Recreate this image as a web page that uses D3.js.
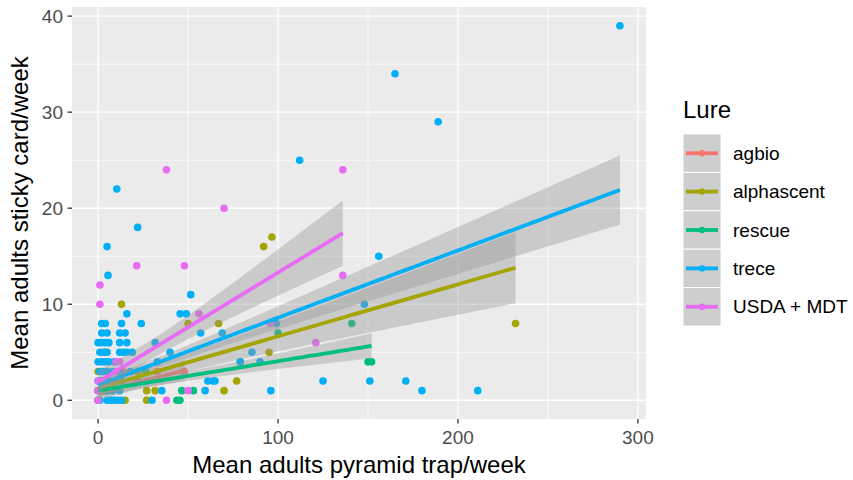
<!DOCTYPE html>
<html>
<head>
<meta charset="utf-8">
<script src="https://cdn.jsdelivr.net/npm/d3@7"></script>
<style>
  body { margin: 0; background: white; }
  svg { font-family: "Liberation Sans", Arial, sans-serif; }
</style>
</head>
<body>
<div id="chart"></div>
<script>
// lures + ggplot default hue colours
const lures = ["agbio", "alphascent", "rescue", "trece", "USDA + MDT"];
const lureColors = ["#F8766D", "#A3A500", "#00BF7D", "#00B0F6", "#E76BF3"];

// points: [pyramid trap, sticky card]
const agbioPoints = [[0,0],[1,1],[3,2],[8,1],[14,3],[22,2],[33,3],[48,3]];
const alphascentPoints = [[0,0],[0,1],[0,3],[4,5],[13,10],[15,0],[22,3],[27,0],[27,1],[31.7,1],
  [50,8],[67,8],[70,1],[77,2],[92,16],[96.6,17],[95,5],[232,8]];
const rescuePoints = [[0,0],[0,1],[2,2],[5,1],[26.5,3],[43.8,0],[45.5,0],[46.5,1],[53,1],
  [79,4],[100,7],[141,8],[150,4],[152,4]];
const trecePoints = [
  [1,0],[5,0],[7,0],[9,0],[11,0],[13,0],[30,0],
  [2,1],[4,1],[6,1],[8,1],[12,1],[35.4,1],[59.5,1],[96,1],[180,1],[211,1],
  [0,2],[2,2],[4,2],[6,2],[10,2],[13,2],[61,2],[64,2],[65,2],[125,2],[151,2],[171,2],
  [1,3],[3,3],[5,3],[8,3],[12,3],[18,3],
  [0,4],[2,4],[4,4],[6,4],[9,4],[33,4],[79,4],[90,4],
  [1,5],[3,5],[5,5],[12,5],[14,5],[16,5],[19,5],[40,5],[85.5,5],
  [0,6],[2,6],[4,6],[6,6],[12,6],[16,6],[31.7,6],
  [2,7],[5,7],[12,7],[15,7],[57,7],[69,7],
  [2,8],[4,8],[13,8],[24,8],[99,8],
  [16,9],[45.6,9],[49,9],
  [148,10],[51.5,11],[5.5,13],[156,15],[5,16],[22,18],[10.4,22],[112,25],[189,29],[165,34],[290,39]
];
const usdaPoints = [[0,0],[38,0],[0,1],[50,1],[0,2],[10,4],[12,4],[10,3],[1,10],[1,12],[21.5,14],[48,14],
  [56,9],[95.7,8],[121,6],[136,13],[70,20],[38,24],[136,24]];
const lurePoints = [agbioPoints, alphascentPoints, rescuePoints, trecePoints, usdaPoints];

// linear fits
const fitIntercept = [0.8, 1.25, 1.0, 1.6, 1.9];
const fitSlope = [0.048, 0.0541, 0.0307, 0.0700, 0.1140];
const fitXMax = [48, 232, 152, 290, 136];
// confidence band: narrowest half width at bandCenter, half width at the right end
const bandCenter = [18, 22, 40, 18, 25];
const bandMinHalf = [0.7, 0.8, 0.5, 0.5, 1.0];
const bandEndHalf = [1.1, 3.7, 1.3, 3.6, 3.4];

const xTicks = [0, 100, 200, 300];
const xMinor = [50, 150, 250];
const yTicks = [0, 10, 20, 30, 40];
const yMinor = [5, 15, 25, 35];

const W = 853, H = 480;
const panel = {left: 72, right: 646, top: 7, bottom: 419};

const svg = d3.select("#chart").append("svg")
  .attr("width", W).attr("height", H);

const x = d3.scaleLinear().domain([-14.5, 304.5]).range([panel.left, panel.right]);
const y = d3.scaleLinear().domain([-1.95, 40.95]).range([panel.bottom, panel.top]);

// panel background
svg.append("rect")
  .attr("x", panel.left).attr("y", panel.top)
  .attr("width", panel.right - panel.left).attr("height", panel.bottom - panel.top)
  .attr("fill", "#EBEBEB");

//網格
const grid = svg.append("g");
grid.selectAll(".xminor").data(xMinor).enter().append("line")
  .attr("x1", d => x(d)).attr("x2", d => x(d))
  .attr("y1", panel.top).attr("y2", panel.bottom)
  .attr("stroke", "white").attr("stroke-width", 0.7);
grid.selectAll(".yminor").data(yMinor).enter().append("line")
  .attr("y1", d => y(d)).attr("y2", d => y(d))
  .attr("x1", panel.left).attr("x2", panel.right)
  .attr("stroke", "white").attr("stroke-width", 0.7);
grid.selectAll(".xmajor").data(xTicks).enter().append("line")
  .attr("x1", d => x(d)).attr("x2", d => x(d))
  .attr("y1", panel.top).attr("y2", panel.bottom)
  .attr("stroke", "white").attr("stroke-width", 1.4);
grid.selectAll(".ymajor").data(yTicks).enter().append("line")
  .attr("y1", d => y(d)).attr("y2", d => y(d))
  .attr("x1", panel.left).attr("x2", panel.right)
  .attr("stroke", "white").attr("stroke-width", 1.4);

// points
lurePoints.forEach((pts, i) => {
  svg.append("g").selectAll("circle").data(pts).enter().append("circle")
    .attr("cx", d => x(d[0]))
    .attr("cy", d => y(d[1]))
    .attr("r", 3.8)
    .attr("fill", lureColors[i]);
});

// smooth: ribbon + line per group
const area = d3.area().x(d => x(d.x)).y0(d => y(d.lo)).y1(d => y(d.hi));
const line = d3.line().x(d => x(d.x)).y(d => y(d.fit));

lures.forEach((name, i) => {
  const c = bandCenter[i], m = bandMinHalf[i], e = bandEndHalf[i];
  const k = Math.sqrt(e * e - m * m) / (fitXMax[i] - c);
  const curve = d3.range(0, 81).map(j => {
    const xv = fitXMax[i] * j / 80;
    const fit = fitIntercept[i] + fitSlope[i] * xv;
    const hw = Math.sqrt(m * m + k * k * (xv - c) * (xv - c));
    return {x: xv, fit: fit, lo: fit - hw, hi: fit + hw};
  });
  svg.append("path").datum(curve)
    .attr("d", area)
    .attr("fill", "#999999").attr("fill-opacity", 0.4);
  svg.append("path").datum(curve)
    .attr("d", line)
    .attr("fill", "none")
    .attr("stroke", lureColors[i])
    .attr("stroke-width", 3.8);
});

// axes
const axisG = svg.append("g");
axisG.selectAll(".xt").data(xTicks).enter().append("line")
  .attr("x1", d => x(d)).attr("x2", d => x(d))
  .attr("y1", panel.bottom).attr("y2", panel.bottom + 4.5)
  .attr("stroke", "#333333").attr("stroke-width", 1.3);
axisG.selectAll(".xl").data(xTicks).enter().append("text")
  .attr("x", d => x(d)).attr("y", panel.bottom + 25)
  .attr("text-anchor", "middle")
  .attr("fill", "#4D4D4D").style("font-size", "19px")
  .text(d => d);
axisG.selectAll(".yt").data(yTicks).enter().append("line")
  .attr("y1", d => y(d)).attr("y2", d => y(d))
  .attr("x1", panel.left - 4.5).attr("x2", panel.left)
  .attr("stroke", "#333333").attr("stroke-width", 1.3);
axisG.selectAll(".yl").data(yTicks).enter().append("text")
  .attr("x", panel.left - 9).attr("y", d => y(d))
  .attr("dy", "0.35em")
  .attr("text-anchor", "end")
  .attr("fill", "#4D4D4D").style("font-size", "19px")
  .text(d => d);

svg.append("text")
  .attr("x", (panel.left + panel.right) / 2).attr("y", 473)
  .attr("text-anchor", "middle")
  .style("font-size", "24px")
  .text("Mean adults pyramid trap/week");
svg.append("text")
  .attr("transform", `translate(28, ${(panel.top + panel.bottom) / 2}) rotate(-90)`)
  .attr("text-anchor", "middle")
  .style("font-size", "24px")
  .text("Mean adults sticky card/week");

// legend
const legend = svg.append("g").attr("transform", "translate(683, 134)");
legend.append("text").attr("x", 0).attr("y", -16)
  .style("font-size", "24px").text("Lure");
const keyH = 38.4, keyW = 38;
const keys = legend.selectAll(".key").data(lures).enter().append("g")
  .attr("transform", (d, i) => `translate(0, ${i * keyH})`);
keys.append("rect").attr("width", keyW).attr("height", keyH)
  .attr("fill", "#F2F2F2").attr("stroke", "white").attr("stroke-width", 1);
keys.append("rect").attr("x", 0.5).attr("y", 0.5)
  .attr("width", keyW - 1).attr("height", keyH - 1)
  .attr("fill", "#999999").attr("fill-opacity", 0.4);
keys.append("line")
  .attr("x1", 3).attr("x2", keyW - 3)
  .attr("y1", keyH / 2).attr("y2", keyH / 2)
  .attr("stroke", (d, i) => lureColors[i]).attr("stroke-width", 3.8);
keys.append("circle")
  .attr("cx", keyW / 2).attr("cy", keyH / 2).attr("r", 3.2)
  .attr("fill", (d, i) => lureColors[i]);
keys.append("text")
  .attr("x", 50).attr("y", keyH / 2).attr("dy", "0.35em")
  .style("font-size", "19px")
  .text(d => d);
</script>
</body>
</html>
